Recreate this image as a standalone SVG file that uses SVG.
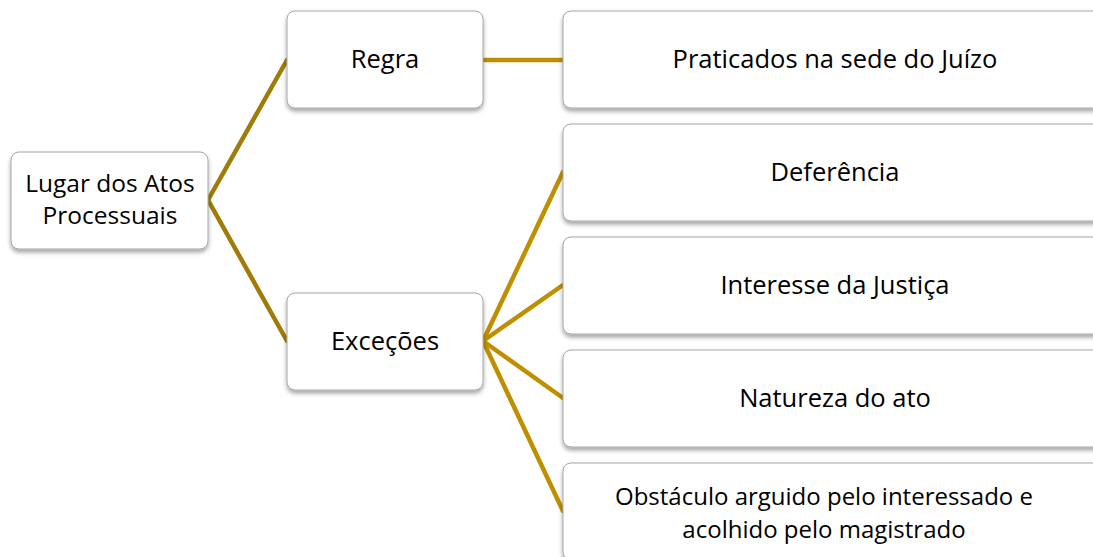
<svg xmlns="http://www.w3.org/2000/svg" width="1093" height="557" viewBox="0 0 1093 557">
<style>
.box{fill:#ffffff;stroke:#a6a6a6;stroke-width:1;filter:url(#sh)}
.t{font-family:"Open Sans","Liberation Sans",sans-serif;font-size:25.5px;fill:#000;text-anchor:middle}
.s{font-size:24.5px}
.o{font-size:24px}
.c1{stroke:#a07b06;stroke-width:4.5;fill:none;stroke-linecap:round}
.c2{stroke:#bf8f00;stroke-width:4.5;fill:none;stroke-linecap:round}
</style>
<defs>
<filter id="sh" x="-10%" y="-10%" width="120%" height="130%">
<feDropShadow dx="0" dy="3" stdDeviation="2" flood-color="#000" flood-opacity="0.35"/>
</filter>
</defs>
<rect width="1093" height="557" fill="#ffffff"/>
<g id="connectors">
<line class="c1" x1="208" y1="200" x2="287" y2="60"/>
<line class="c1" x1="208" y1="200" x2="287" y2="341"/>
<line class="c2" x1="483" y1="60" x2="563" y2="60"/>
<line class="c2" x1="483" y1="341" x2="563" y2="172"/>
<line class="c2" x1="483" y1="341" x2="563" y2="285"/>
<line class="c2" x1="483" y1="341" x2="563" y2="398"/>
<line class="c2" x1="483" y1="341" x2="563" y2="511"/>
</g>
<g id="root">
<rect class="box" x="11" y="152" width="197" height="97" rx="8"/>
<text class="t s" x="110" y="192">Lugar dos Atos</text>
<text class="t s" x="110" y="224">Processuais</text>
</g>
<g id="regra">
<rect class="box" x="287" y="11" width="196" height="97" rx="8"/>
<text class="t" x="385" y="68">Regra</text>
</g>
<g id="excecoes">
<rect class="box" x="287" y="293" width="196" height="97" rx="8"/>
<text class="t" x="385" y="350">Exceções</text>
</g>
<g id="praticados">
<rect class="box" x="563" y="11" width="544" height="97" rx="8"/>
<text class="t" x="835" y="68">Praticados na sede do Juízo</text>
</g>
<g id="deferencia">
<rect class="box" x="563" y="124" width="544" height="97" rx="8"/>
<text class="t" x="835" y="181">Deferência</text>
</g>
<g id="interesse">
<rect class="box" x="563" y="237" width="544" height="97" rx="8"/>
<text class="t" x="835" y="294">Interesse da Justiça</text>
</g>
<g id="natureza">
<rect class="box" x="563" y="350" width="544" height="97" rx="8"/>
<text class="t" x="835" y="407">Natureza do ato</text>
</g>
<g id="obstaculo">
<rect class="box" x="563" y="463" width="544" height="97" rx="8"/>
<text class="t o" x="824" y="505">Obstáculo arguido pelo interessado e</text>
<text class="t o" x="824" y="538">acolhido pelo magistrado</text>
</g>
</svg>
